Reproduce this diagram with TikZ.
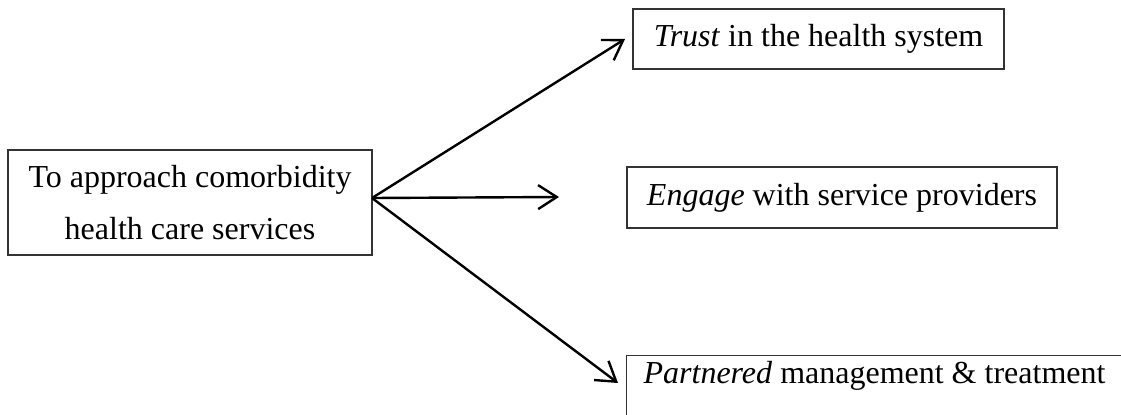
\documentclass[tikz,border=0pt]{standalone}
\usepackage{fontspec}
\setmainfont{Liberation Serif}
\usetikzlibrary{arrows.meta}
\begin{document}
\begin{tikzpicture}[x=0.375pt,y=-0.375pt,
  box/.style={draw=black!80, line width=0.45pt, inner sep=0pt,
    font=\fontsize{12}{19.5}\selectfont, align=center},
  link/.style={line width=0.9pt,
    -{Straight Barb[length=7pt,width=9pt,line width=0.9pt]}}]
\clip (0,0) rectangle (1121,414);

% source box
\node[box, minimum width=364*0.375pt, minimum height=105*0.375pt] (src)
  at (190,202.5) {To approach comorbidity\\health care services};

% outcome boxes
\node[box, minimum width=371*0.375pt, minimum height=60*0.375pt] (trust)
  at (818.5,39) {\textit{Trust} in the health system};
\node[box, minimum width=430*0.375pt, minimum height=61*0.375pt] (engage)
  at (842,197.5) {\textit{Engage} with service providers};
\node[box, anchor=north west, inner xsep=17*0.375pt,
  text height=28*0.375pt, text depth=80*0.375pt] (partner)
  at (626,355) {\makebox[180pt][l]{\textit{Partnered} management \& treatment}};

% arrows fanning out from the source box
\coordinate (hub) at (372,198);
\coordinate (toTrust) at (625,39);
\coordinate (toEngage) at (559,197);
\coordinate (toPartner) at (618,383);
\draw[link] (hub) -- (toTrust);
\draw[link] (hub) -- (toEngage);
\draw[link] (hub) -- (toPartner);
\end{tikzpicture}
\end{document}
